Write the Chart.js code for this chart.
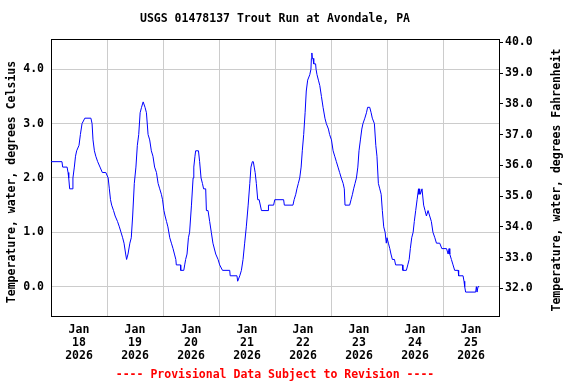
<!DOCTYPE html>
<html><head><meta charset="utf-8">
<script src="https://cdn.jsdelivr.net/npm/chart.js@4"></script>
<style>html,body{margin:0;padding:0;background:#fff}#wrap{width:576px;height:384px}</style>
</head><body><div id="wrap"><canvas id="c" width="576" height="384"></canvas></div>
<script>
const chartTitle = 'USGS 01478137 Trout Run at Avondale, PA';
const footerText = '---- Provisional Data Subject to Revision ----';
const leftTitle = 'Temperature, water, degrees Celsius';
const rightTitle = 'Temperature, water, degrees Fahrenheit';
const monthLabel = 'Jan';
const yearLabel = '2026';
const dayLabels = ['18','19','20','21','22','23','24','25'];
const celsiusTicks = [0,1,2,3,4];
const fahrenheitTicks = [32,33,34,35,36,37,38,39,40];
// hours since Jan 18 2026 00:00
const hours = [0,4.7,5.0,6.9,7.3,7.6,8.0,9.0,9.4,10.0,10.5,11.0,12.0,12.6,13.3,14.5,17.1,17.6,18.0,18.6,19.2,20.0,21.0,22.0,23.5,24.5,25.0,25.5,26.0,26.8,27.5,28.5,29.3,30.0,30.7,31.3,32.0,32.4,33.0,33.8,34.4,35.0,35.7,36.4,37.0,37.6,38.2,38.8,39.5,40.3,40.9,41.6,42.3,43.0,43.7,44.4,45.2,45.9,46.6,
47.3,47.8,48.4,48.9,49.5,50.1,50.9,51.6,52.3,52.9,53.5,53.7,55.5,55.6,56.9,57.3,57.7,58.3,58.9,59.4,60.2,60.9,61.2,61.7,62.0,63.2,63.7,64.3,64.9,65.4,66.3,66.6,67.3,68.0,68.7,69.4,70.6,71.6,72.3,73.5,76.6,76.8,79.7,80.0,80.9,81.6,82.3,83.0,83.7,84.5,85.2,85.7,86.3,86.7,87.1,87.5,88.0,88.6,89.2,90.2,93.0,93.2,95.4,
95.9,99.7,100.0,103.7,104.2,104.9,105.4,106.0,106.6,107.2,107.7,108.3,108.9,109.4,110.0,110.9,111.4,111.6,111.8,112.0,112.3,112.6,113.4,113.6,114.0,114.6,115.2,115.9,116.6,117.4,118.0,118.9,119.4,120.2,120.9,121.6,122.3,123.0,123.7,124.4,125.2,125.7,126.0,128.0,128.6,129.2,129.7,130.3,130.9,131.5,132.0,132.6,133.2,133.7,134.5,135.2,135.7,136.6,137.2,137.7,138.6,139.2,139.7,140.3,140.9,141.5,142.0,142.6,143.2,143.7,144.0,144.6,145.2,145.7,146.3,147.2,147.7,150.6,150.8,152.3,152.9,153.5,154.0,154.6,155.2,155.7,156.3,156.9,157.5,157.7,158.0,158.3,159.0,159.7,160.3,160.9,161.6,162.3,163.0,163.7,164.5,165.2,166.6,167.5,169.5,170.2,170.6,170.9,171.6,172.3,173.0,174.5,174.7,176.6,177.0,177.3,177.7,182.0,182.3,182.6,183.0,183.5];
const tempC = [2.3,2.3,2.2,2.2,2.1,2.0,1.8,1.8,2.0,2.2,2.4,2.5,2.6,2.8,3.0,3.1,3.1,3.0,2.7,2.5,2.4,2.3,2.2,2.1,2.1,2.0,1.8,1.6,1.5,1.4,1.3,1.2,1.1,1.0,0.9,0.8,0.6,0.5,0.6,0.8,0.9,1.3,1.9,2.2,2.6,2.8,3.2,3.3,3.4,3.3,3.2,2.8,2.7,2.5,2.4,2.2,2.1,1.9,1.8,
1.7,1.6,1.4,1.3,1.2,1.1,0.9,0.8,0.7,0.6,0.5,0.4,0.4,0.3,0.3,0.4,0.5,0.6,0.9,1.0,1.5,2.0,2.2,2.4,2.5,2.5,2.3,2.0,1.9,1.8,1.8,1.4,1.4,1.2,1.0,0.8,0.6,0.5,0.4,0.3,0.3,0.2,0.2,0.1,0.2,0.3,0.5,0.8,1.1,1.5,1.9,2.2,2.3,2.3,2.2,2.1,1.9,1.6,1.6,1.4,1.4,1.5,1.5,
1.6,1.6,1.5,1.5,1.6,1.7,1.8,1.9,2.0,2.2,2.5,2.8,3.2,3.6,3.8,3.9,4.0,4.2,4.3,4.2,4.2,4.1,4.1,4.0,3.9,3.8,3.7,3.5,3.3,3.1,3.0,2.9,2.8,2.7,2.5,2.4,2.3,2.2,2.1,2.0,1.9,1.8,1.5,1.5,1.6,1.7,1.8,1.9,2.0,2.2,2.5,2.7,2.9,3.0,3.1,3.2,3.3,3.3,3.2,3.1,3.0,2.6,2.4,1.9,1.8,1.7,1.4,1.1,1.0,0.8,0.9,0.8,0.7,0.6,0.5,0.5,0.4,0.4,0.3,0.3,0.4,0.5,0.7,0.9,1.0,1.2,1.4,1.6,1.8,1.7,1.8,1.7,1.8,1.5,1.4,1.3,1.4,1.3,1.2,1.0,0.9,0.8,0.8,0.7,0.7,0.6,0.7,0.6,0.5,0.4,0.3,0.3,0.2,0.2,0.1,0.0,-0.1,-0.1,0.0,-0.1,0.0,0.0];

const FONT = "'DejaVu Sans Mono', 'Liberation Mono', monospace";
const baseFont = {family: FONT, size: 11.5, weight: 'bold', lineHeight: 1.13};

const textPlugin = {
  id: 'texts',
  afterDraw(chart) {
    const ctx = chart.ctx, a = chart.chartArea;
    ctx.save();
    ctx.strokeStyle = '#000'; ctx.lineWidth = 1;
    ctx.beginPath();
    ctx.moveTo(Math.round(a.left), Math.floor(a.top) + 0.5);
    ctx.lineTo(Math.round(a.right) + 1, Math.floor(a.top) + 0.5);
    ctx.stroke();
    ctx.font = 'bold 11.5px ' + FONT;
    ctx.textAlign = 'center'; ctx.textBaseline = 'middle';
    ctx.fillStyle = '#000';
    ctx.fillText(chartTitle, (a.left + a.right) / 2, 19);
    ctx.fillStyle = '#ff0000';
    ctx.fillText(footerText, (a.left + a.right) / 2, 375);
    ctx.fillStyle = '#000';
    ctx.save(); ctx.translate(12, 182); ctx.rotate(-Math.PI / 2);
    ctx.fillText(leftTitle, 0, 0); ctx.restore();
    ctx.save(); ctx.translate(557, 180); ctx.rotate(-Math.PI / 2);
    ctx.fillText(rightTitle, 0, 0); ctx.restore();
    ctx.restore();
  }
};

new Chart(document.getElementById('c'), {
  type: 'line',
  data: {
    datasets: [{
      data: hours.map((h, i) => ({x: h, y: tempC[i]})),
      borderColor: '#0000ff', borderWidth: 1, pointRadius: 0, fill: false, tension: 0,
      yAxisID: 'y'
    }]
  },
  options: {
    responsive: false, animation: false, devicePixelRatio: 1,
    layout: {padding: {top: 39, left: 0, right: 0, bottom: 0}},
    plugins: {legend: {display: false}, tooltip: {enabled: false}, title: {display: false}},
    scales: {
      x: {
        type: 'linear', min: 0, max: 192,
        afterBuildTicks: ax => { const t = []; for (let v = 0; v <= 192; v += 12) t.push({value: v}); ax.ticks = t; },
        afterFit: ax => { ax.height = 68; },
        grid: {color: c => (c.tick && c.tick.value % 24 === 0) ? '#cccccc' : 'rgba(0,0,0,0)', drawTicks: false},
        border: {color: '#000', width: 1},
        ticks: {
          autoSkip: false, maxRotation: 0, minRotation: 0, padding: 8, color: '#000', font: baseFont,
          callback: v => (v % 24 === 12) ? [monthLabel, dayLabels[Math.floor(v / 24)], yearLabel] : ''
        }
      },
      y: {
        position: 'left', min: -0.54, max: 4.557,
        afterBuildTicks: ax => { ax.ticks = celsiusTicks.map(v => ({value: v})); },
        afterFit: ax => { ax.width = 51; },
        grid: {color: '#cccccc', drawTicks: false},
        border: {color: '#000', width: 1},
        ticks: {padding: 7, color: '#000', font: baseFont, callback: v => v.toFixed(1)}
      },
      y2: {
        position: 'right', min: 31.1, max: 40.107,
        afterBuildTicks: ax => { ax.ticks = fahrenheitTicks.map(v => ({value: v})); },
        afterFit: ax => { ax.width = 77; },
        grid: {drawOnChartArea: false, drawTicks: true, tickLength: 4, tickColor: '#000'},
        border: {color: '#000', width: 1},
        ticks: {padding: 2, color: '#000', font: baseFont, callback: v => v.toFixed(1)}
      }
    }
  },
  plugins: [textPlugin]
});
</script></body></html>
